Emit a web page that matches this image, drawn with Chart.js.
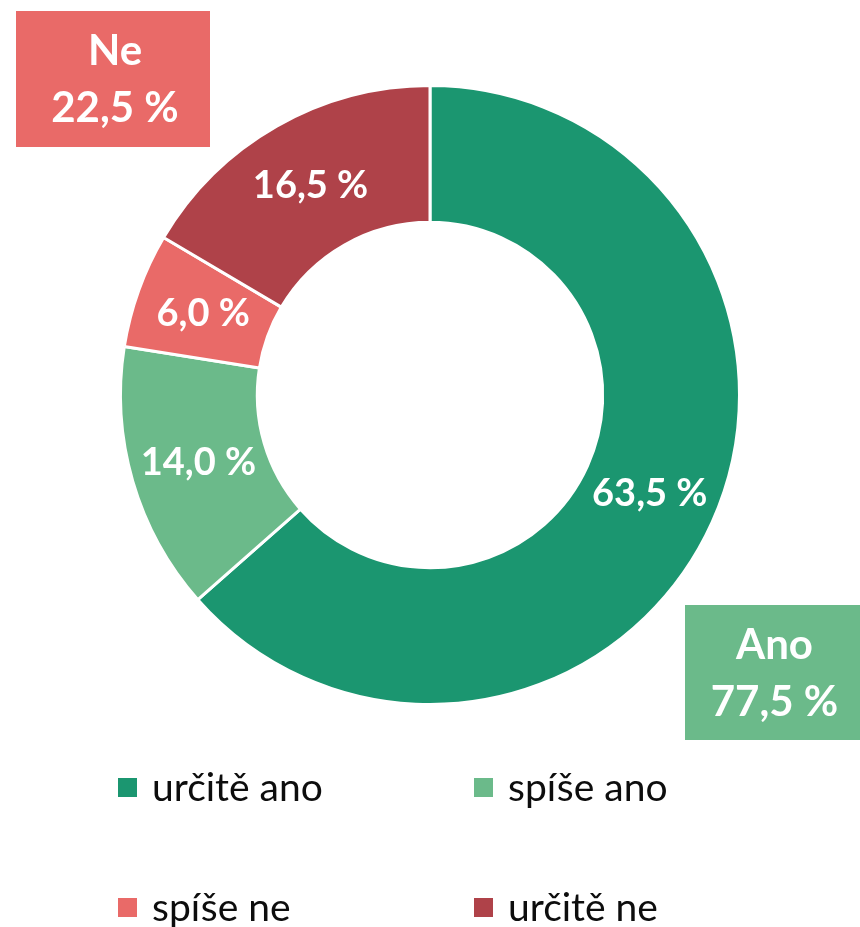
<!DOCTYPE html>
<html>
<head>
<meta charset="utf-8">
<script src="https://cdn.jsdelivr.net/npm/chart.js@4/dist/chart.umd.min.js"></script>
<style>
html,body{margin:0;padding:0;background:#fff;}
canvas{display:block;}
</style>
</head>
<body>
<canvas id="c" width="860" height="927"></canvas>
<script>
const categories = ['určitě ano', 'spíše ano', 'spíše ne', 'určitě ne'];
const values = [63.5, 14.0, 6.0, 16.5];
const colors = ['#1B9670', '#6BBA8A', '#E96A68', '#AF4249'];
const groupLabels = ['Ano', 'Ne'];
const groupMembers = [[0, 1], [2, 3]];
const groupColors = ['#6BBA8A', '#E96A68'];

const FONT = 'Lato, "Open Sans", sans-serif';
const fmt = v => v.toFixed(1).replace('.', ',') + ' %';

const labelPlugin = {
  id: 'labels',
  afterDraw(chart) {
    const ctx = chart.ctx;
    const meta = chart.getDatasetMeta(0);
    ctx.save();
    ctx.fillStyle = '#fff';
    ctx.textAlign = 'center';
    ctx.textBaseline = 'middle';
    ctx.font = 'bold 38px ' + FONT;
    meta.data.forEach((arc, i) => {
      const p = arc.tooltipPosition();
      ctx.fillText(fmt(values[i]), p.x, p.y);
    });

    // group boxes
    const boxes = [
      {x: 685, y: 605, w: 175, h: 135},
      {x: 16, y: 11, w: 194, h: 136}
    ];
    groupLabels.forEach((g, k) => {
      const b = boxes[k];
      const sum = groupMembers[k].reduce((s, i) => s + values[i], 0);
      ctx.fillStyle = groupColors[k];
      ctx.fillRect(b.x, b.y, b.w, b.h);
      ctx.fillStyle = '#fff';
      ctx.font = 'bold 42px ' + FONT;
      const cx = b.x + b.w / 2 + 2;
      ctx.fillText(g, cx, b.y + 40);
      ctx.fillText(fmt(sum), cx, b.y + 97);
    });

    // legend
    const cols = [118, 474];
    const rows = [788, 908];
    ctx.textAlign = 'left';
    ctx.font = '39px ' + FONT;
    categories.forEach((c, i) => {
      const x = cols[i % 2];
      const y = rows[Math.floor(i / 2)];
      ctx.fillStyle = colors[i];
      ctx.fillRect(x, y - 10, 19, 19);
      ctx.fillStyle = '#0D0D0D';
      ctx.fillText(c, x + 34, y);
    });
    ctx.restore();
  }
};

new Chart(document.getElementById('c'), {
  type: 'doughnut',
  data: {
    labels: categories,
    datasets: [{
      data: values,
      backgroundColor: colors,
      borderColor: '#ffffff',
      borderWidth: 3,
      hoverOffset: 0
    }]
  },
  options: {
    responsive: false,
    devicePixelRatio: 1,
    animation: false,
    cutout: '55.8%',
    rotation: 0,
    layout: {padding: {left: 119, right: 119, top: 84, bottom: 221}},
    plugins: {
      legend: {display: false},
      tooltip: {enabled: false}
    }
  },
  plugins: [labelPlugin]
});
</script>
</body>
</html>
